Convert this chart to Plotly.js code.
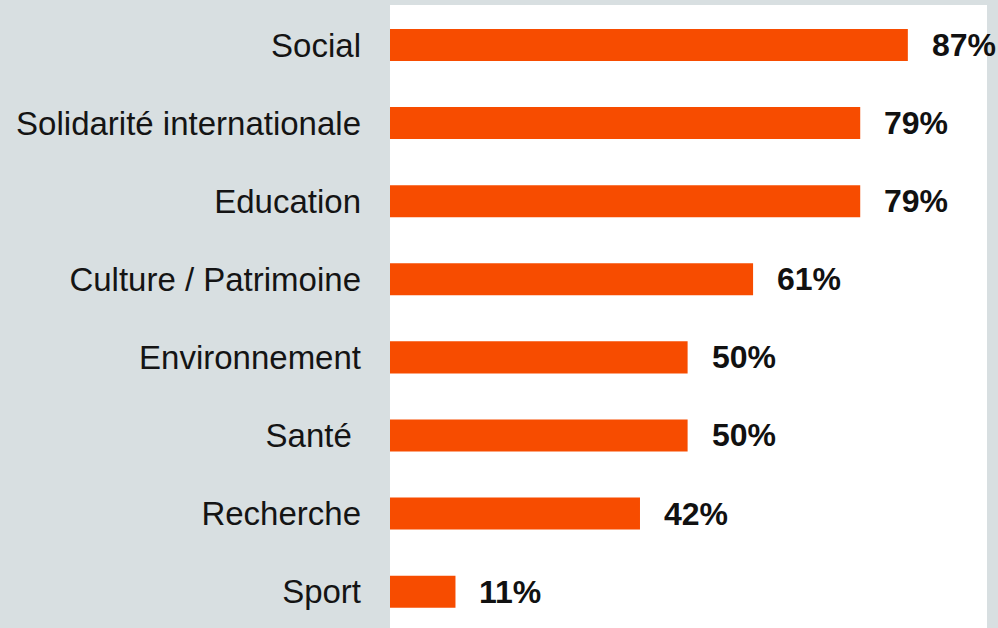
<!DOCTYPE html>
<html>
<head>
<meta charset="utf-8">
<script src="https://cdn.plot.ly/plotly-3.0.1.min.js"></script>
<style>
html,body{margin:0;padding:0;background:#d8dfe1;}
#chart{width:998px;height:628px;}
</style>
</head>
<body>
<div id="chart"></div>
<script>
const categories = ["Social", "Solidarité internationale", "Education", "Culture / Patrimoine", "Environnement", "Santé ", "Recherche", "Sport"];
const values = [87, 79, 79, 61, 50, 50, 42, 11];
const valueLabels = ["87%", "79%", "79%", "61%", "50%", "50%", "42%", "11%"];

const trace = {
  type: 'bar',
  orientation: 'h',
  x: values,
  y: categories,
  width: 0.41,
  marker: {color: '#f74c00', line: {width: 0}},
  hoverinfo: 'none'
};

const annotations = categories.map((c, i) => ({
  x: values[i], y: c, xref: 'x', yref: 'y',
  text: valueLabels[i], showarrow: false,
  xanchor: 'left', yanchor: 'middle', xshift: 22, yshift: 0,
  font: {family: 'Liberation Sans, Arial, sans-serif', size: 32, color: '#111111', weight: 700}
}));

const layout = {
  width: 998, height: 628,
  margin: {l: 390, r: 11, t: 5, b: 0, pad: 0},
  paper_bgcolor: '#d8dfe1',
  plot_bgcolor: '#ffffff',
  showlegend: false,
  xaxis: {range: [0, 100.3], showgrid: false, zeroline: false, showticklabels: false, ticks: '', showline: false, fixedrange: true},
  yaxis: {
    type: 'category',
    range: [7.465, -0.512],
    showgrid: false, zeroline: false, showline: false, ticks: '',
    ticklabelstandoff: 28,
    tickfont: {family: 'Liberation Sans, Arial, sans-serif', size: 33, color: '#141414'}
  },
  annotations: annotations
};

Plotly.newPlot('chart', [trace], layout, {displayModeBar: false, staticPlot: true});
</script>
</body>
</html>
